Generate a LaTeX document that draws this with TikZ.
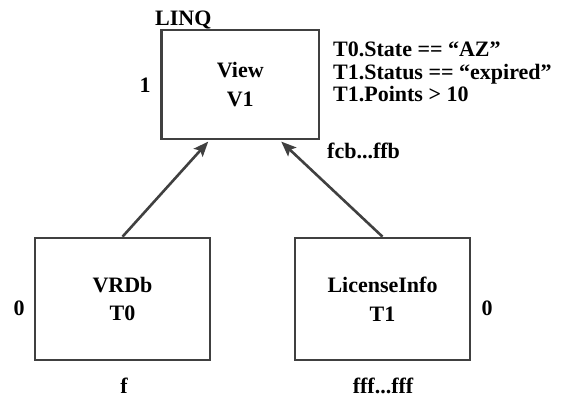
\documentclass[tikz,border=0pt]{standalone}
\usepackage{fontspec}
\setmainfont{Liberation Serif}
\usetikzlibrary{arrows.meta}
\definecolor{linegray}{HTML}{404040}
\begin{document}
\begin{tikzpicture}[x=1pt,y=-1pt,
  box/.style={draw=linegray, line width=2.6pt, inner sep=0pt, align=center,
    font=\bfseries\fontsize{22}{28.5}\selectfont},
  lbl/.style={inner sep=0pt, font=\bfseries\fontsize{22}{22.5}\selectfont},
  arr/.style={draw=linegray, line width=2.6pt,
    -{Stealth[length=15pt,width=12pt,inset=3pt]}}]
\useasboundingbox (0,0) rectangle (564,397);
\node[box, minimum width=157.5pt, minimum height=109pt] (view) at (240.25,84.5) {View\\V1};
\node[box, minimum width=175pt, minimum height=122pt] (vrdb) at (122.5,299) {VRDb\\T0};
\node[box, minimum width=175pt, minimum height=122pt] (lic) at (382.5,299) {LicenseInfo\\T1};
\draw[arr] (vrdb.north) -- ([xshift=-32pt,yshift=-1.3pt]view.south);
\draw[arr] (lic.north) -- ([xshift=41pt,yshift=-1.3pt]view.south);
\node[lbl, anchor=base west] (linq) at (155,25) {LINQ};
\node[lbl, anchor=base] (one) at (145,92) {1};
\node[lbl, anchor=north west, align=left] (cond) at (333,42) {T0.State == “AZ”\\T1.Status == “expired”\\T1.Points > 10};
\node[lbl, anchor=base west] (fcb) at (327,158) {fcb...ffb};
\node[lbl, anchor=base] (zl) at (19,315) {0};
\node[lbl, anchor=base] (zr) at (487,315) {0};
\node[lbl, anchor=base] (fl) at (124,393) {f};
\node[lbl, anchor=base] (fr) at (383,393) {fff...fff};
\end{tikzpicture}
\end{document}
